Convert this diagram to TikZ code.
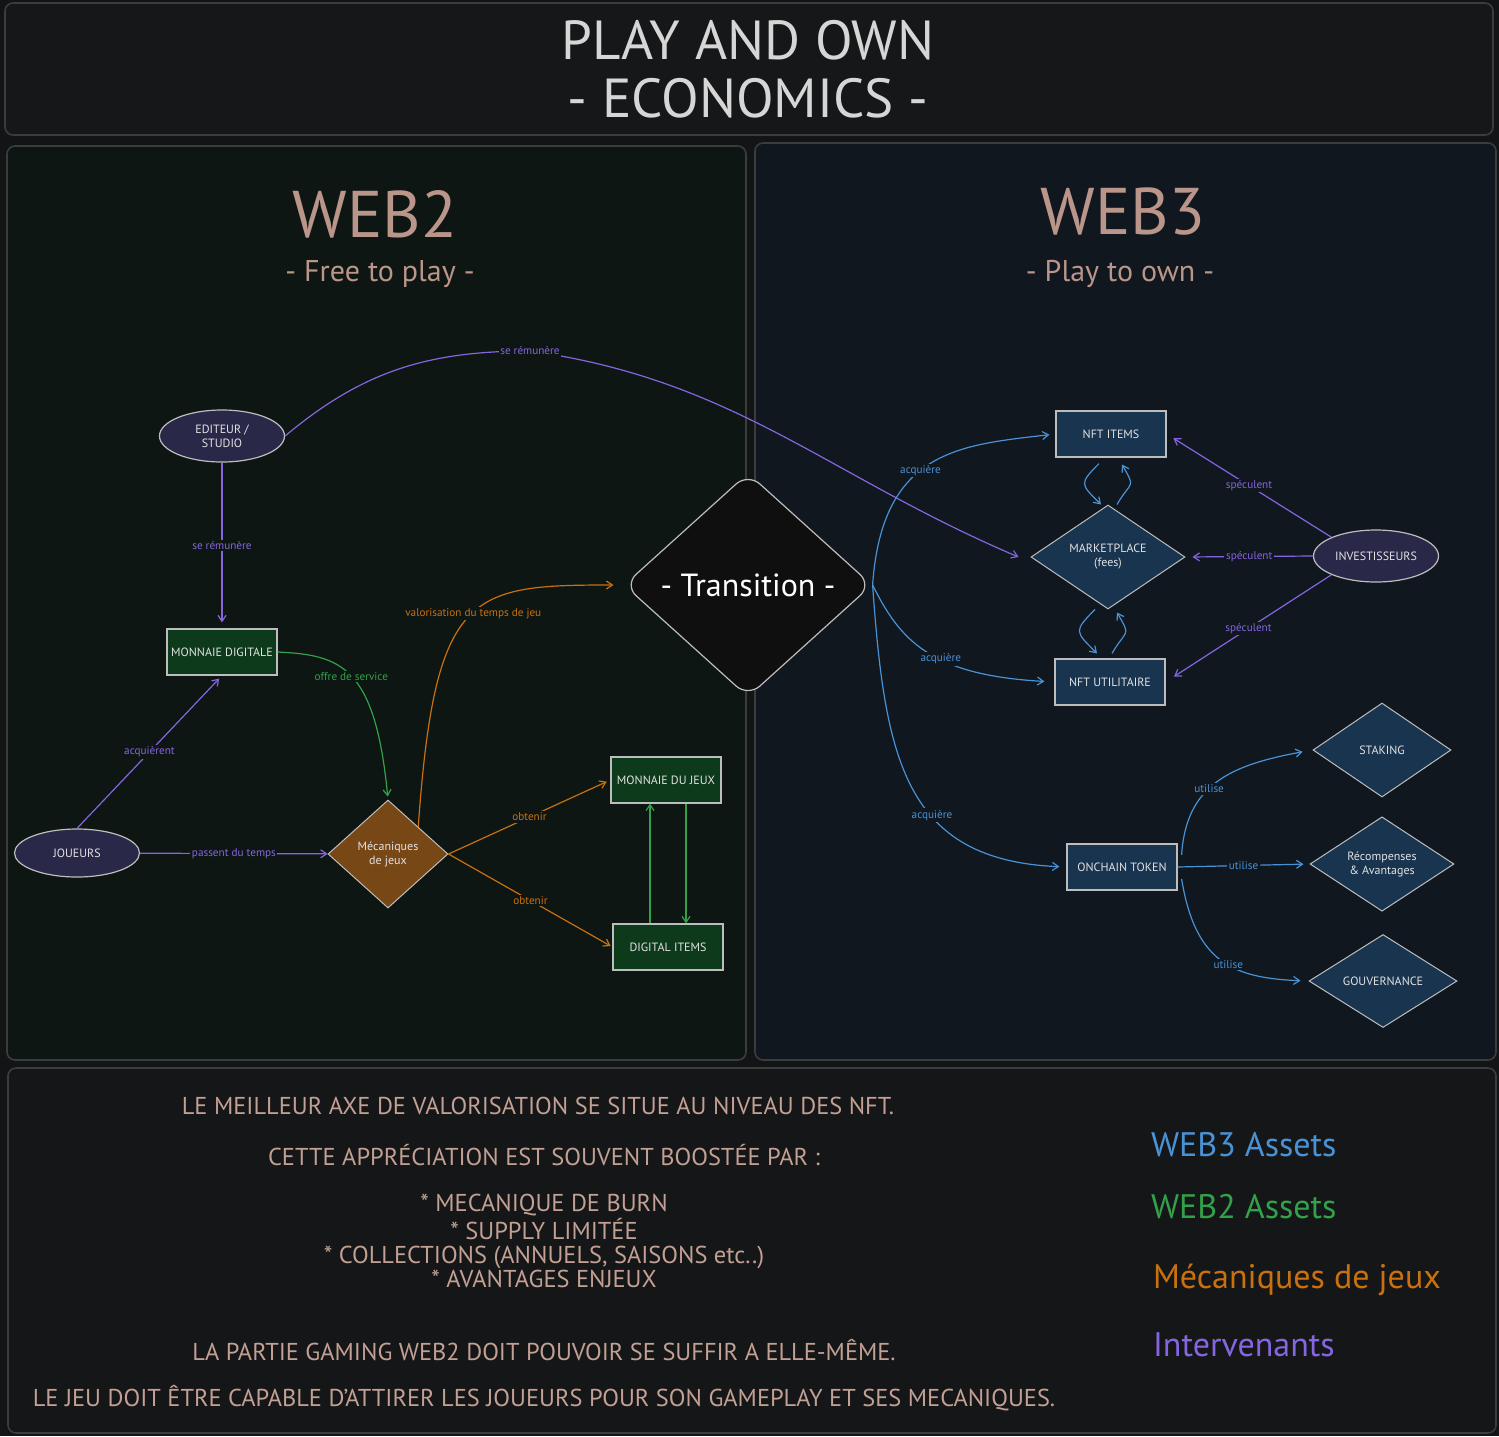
\documentclass[tikz,border=0pt]{standalone}
\usepackage{fontspec}
\setmainfont{PT Sans}
\usetikzlibrary{shapes.geometric,arrows.meta}

\definecolor{bgc}{HTML}{131415}
\definecolor{titlebg}{HTML}{161718}
\definecolor{leftbg}{HTML}{0E1613}
\definecolor{rightbg}{HTML}{10171E}
\definecolor{botbg}{HTML}{151617}
\definecolor{panelbd}{HTML}{3A3C3E}
\definecolor{titletxt}{HTML}{D6D6D6}
\definecolor{rose}{HTML}{BA958A}
\definecolor{notec}{HTML}{C2A094}
\definecolor{purp}{HTML}{8565E0}
\definecolor{orng}{HTML}{C9700F}
\definecolor{grn}{HTML}{33A04A}
\definecolor{blu}{HTML}{4A92D6}
\definecolor{ellfill}{HTML}{2A2848}
\definecolor{grnfill}{HTML}{0E3A1C}
\definecolor{blufill}{HTML}{18344F}
\definecolor{mecfill}{HTML}{774715}
\definecolor{transfill}{HTML}{0F0F0F}
\definecolor{nodebd}{HTML}{BDBDBD}
\definecolor{nodetxt}{HTML}{E2E2E2}

\tikzset{
  >={Straight Barb[length=3pt,width=4pt]},
  tiny/.style={font=\fontsize{5.6}{6.6}\selectfont},
  small/.style={font=\fontsize{6}{7}\selectfont},
  box/.style={small, draw=nodebd, line width=0.6pt, text=nodetxt, minimum width=55pt, minimum height=23pt, inner sep=1pt},
  greenbox/.style={box, fill=grnfill},
  bluebox/.style={box, fill=blufill},
  actor/.style={small, ellipse, draw=nodebd, line width=0.6pt, fill=ellfill, text=nodetxt, minimum width=62.5pt, minimum height=26pt, inner sep=0pt, align=center},
  choice/.style={small, diamond, draw=nodebd, line width=0.5pt, text=nodetxt, inner sep=0pt, align=center},
  link/.style={->, line width=0.6pt},
  lbl/.style={tiny, fill=leftbg, inner sep=0.8pt},
  rlbl/.style={lbl, fill=rightbg},
  panel/.style={draw=panelbd, line width=0.8pt, rounded corners=4pt},
  heading/.style={text=rose, inner sep=0pt},
  note/.style={font=\fontsize{12.2}{12.17}\selectfont, text=notec, inner sep=0pt, align=center},
  legend/.style={font=\fontsize{17}{20}\selectfont, anchor=west},
}

\begin{document}
\begin{tikzpicture}[x=0.5pt,y=-0.5pt]
\fill[bgc] (0,0) rectangle (1499,1436);
\useasboundingbox (0,0) rectangle (1499,1436);
\path[panel, fill=titlebg] (5,3) rectangle (1493,135);
\path[panel, fill=leftbg] (7,146) rectangle (746,1060);
\path[panel, fill=rightbg] (755,143) rectangle (1496,1060);
\path[panel, fill=botbg] (8,1068) rectangle (1496,1433);

\node[font=\fontsize{27.5}{32}\selectfont, text=titletxt, inner sep=0pt] (title) at (748,40) {PLAY AND OWN};
\node[font=\fontsize{27.5}{32}\selectfont, text=titletxt, inner sep=0pt] (subtitle) at (748,98) {- ECONOMICS -};
\node[heading, font=\fontsize{33}{36}\selectfont] (web2) at (375,214) {WEB2};
\node[heading, font=\fontsize{15}{17}\selectfont] (f2p) at (380,274) {- Free to play -};
\node[heading, font=\fontsize{33}{36}\selectfont] (web3) at (1123,212) {WEB3};
\node[heading, font=\fontsize{15}{17}\selectfont] (p2o) at (1120,274) {- Play to own -};

\node[actor] (edit) at (222,436) {EDITEUR /\\STUDIO};
\node[greenbox] (mdig) at (222,652) {MONNAIE DIGITALE};
\node[actor, minimum height=24pt] (joueurs) at (77,853) {JOUEURS};
\node[choice, fill=mecfill, minimum width=60pt, minimum height=54pt] (mec) at (388,854) {Mécaniques\\de jeux};
\node[greenbox] (mdj) at (666,780) {MONNAIE DU JEUX};
\node[greenbox] (di) at (668,947) {DIGITAL ITEMS};
\node[diamond, draw=nodebd, line width=0.6pt, fill=transfill, rounded corners=8pt, minimum width=124pt, minimum height=112pt, inner sep=0pt, text=white, font=\fontsize{16}{18}\selectfont] (trans) at (748,585) {- Transition -};
\node[bluebox] (nfti) at (1111,434) {NFT ITEMS};
\node[choice, fill=blufill, minimum width=77pt, minimum height=52pt] (mkt) at (1108,557) {MARKETPLACE\\(fees)};
\node[bluebox] (nftu) at (1110,682) {NFT UTILITAIRE};
\node[actor] (inv) at (1376,556) {INVESTISSEURS};
\node[bluebox] (onch) at (1122,867) {ONCHAIN TOKEN};
\node[choice, fill=blufill, minimum width=69pt, minimum height=47pt] (stak) at (1382,750) {STAKING};
\node[choice, fill=blufill, minimum width=72pt, minimum height=46pt] (rec) at (1382,864) {Récompenses\\\& Avantages};
\node[choice, fill=blufill, minimum width=74pt, minimum height=46.5pt] (gouv) at (1383,981) {GOUVERNANCE};

\draw[link, purp] (edit.east) to[out=40,in=180] (530,351) node[lbl] {se rémunère} to[out=-8,in=157] ([xshift=-6pt]mkt.west);
\path [link, purp] (edit) edge[shorten >=3pt] node[lbl] {se rémunère} (mdig);
\path [link, purp] (joueurs.north) edge[shorten >=2pt] node[lbl] {acquièrent} (mdig.south);
\path [link, purp] (joueurs) edge node[lbl] {passent du temps} (mec);
\draw [link, grn, shorten >=1.5pt] (mdig.east) .. controls (340,655) and (375,665) .. (mec.north) node[lbl, pos=0.5] {offre de service};
\draw [link, orng, shorten >=5pt] (mec.north east) .. controls (435,590) and (470,585) .. (trans.west) node[lbl, pos=0.52] {valorisation du temps de jeu};
\path [link, orng] (mec.east) edge[shorten >=2pt] node[lbl] {obtenir} (mdj.west);
\path [link, orng] (mec.east) edge[shorten >=1pt] node[lbl] {obtenir} (di.west);
\path [link, grn] ([xshift=-9pt]di.north) edge ([xshift=-8pt]mdj.south);
\path [link, grn] ([xshift=10pt]mdj.south) edge ([xshift=9pt]di.north);

\draw [link, blu, shorten >=3pt] (trans.east) .. controls (882,450) and (960,445) .. (nfti.west) node[rlbl, pos=0.44] {acquière};
\draw [link, blu, shorten >=5pt] (trans.east) .. controls (900,640) and (930,675) .. (nftu.west) node[rlbl, pos=0.58] {acquière};
\draw [link, blu, shorten >=3.5pt] (trans.east) .. controls (885,760) and (905,860) .. (onch.west) node[rlbl, pos=0.6] {acquière};
\path [link, blu] ([shift={(-6pt,-3pt)}]nfti.south) edge[out=225,in=135,looseness=1.8] ([xshift=-3.5pt]mkt.north);
\path [link, blu] ([xshift=4.5pt]mkt.north) edge[out=60,in=-60,looseness=1.8] ([shift={(5.5pt,-3.5pt)}]nfti.south);
\path [link, blu] ([xshift=-6.5pt]mkt.south) edge[out=225,in=135,looseness=1.8] ([shift={(-6.5pt,2.5pt)}]nftu.north);
\path [link, blu] ([shift={(1pt,2.5pt)}]nftu.north) edge[out=60,in=-60,looseness=1.8] ([shift={(4.5pt,-1.5pt)}]mkt.south);
\path [link, purp] (inv.north west) edge[shorten >=4pt] node[rlbl] {spéculent} (nfti.east);
\path [link, purp] (inv.west) edge[shorten >=3.5pt] node[rlbl] {spéculent} (mkt.east);
\path [link, purp] (inv.south west) edge[shorten >=5pt] node[rlbl] {spéculent} (nftu.east);
\draw [link, blu, shorten >=5pt] ([shift={(2pt,6pt)}]onch.east) .. controls (1186,785) and (1230,765) .. (stak.west) node[rlbl, pos=0.43] {utilise};
\path [link, blu] (onch.east) edge[shorten >=3pt] node[rlbl] {utilise} (rec.west);
\draw [link, blu, shorten >=4pt] ([shift={(2pt,-6pt)}]onch.east) .. controls (1195,960) and (1230,978) .. (gouv.west) node[rlbl, pos=0.56] {utilise};

\node[note] (n1) at (538,1106) {LE MEILLEUR AXE DE VALORISATION SE SITUE AU NIVEAU DES NFT.};
\node[note] (n2) at (544,1155) {CETTE APPRÉCIATION EST SOUVENT BOOSTÉE PAR :};
\node[note] (n3) at (544,1241) {* MECANIQUE DE BURN\\* SUPPLY LIMITÉE\\* COLLECTIONS (ANNUELS, SAISONS etc..)\\* AVANTAGES ENJEUX};
\node[note] (n7) at (544,1350) {LA PARTIE GAMING WEB2 DOIT POUVOIR SE SUFFIR A ELLE-MÊME.};
\node[note] (n8) at (544,1398) {LE JEU DOIT ÊTRE CAPABLE D'ATTIRER LES JOUEURS POUR SON GAMEPLAY ET SES MECANIQUES.};

\node[legend, text=blu] (lg3) at (1144,1145) {WEB3 Assets};
\node[legend, text=grn] (lg2) at (1144,1207) {WEB2 Assets};
\node[legend, text=orng] (lgm) at (1146,1280) {Mécaniques de jeux};
\node[legend, text=purp] (lgi) at (1146,1345) {Intervenants};
\end{tikzpicture}
\end{document}
